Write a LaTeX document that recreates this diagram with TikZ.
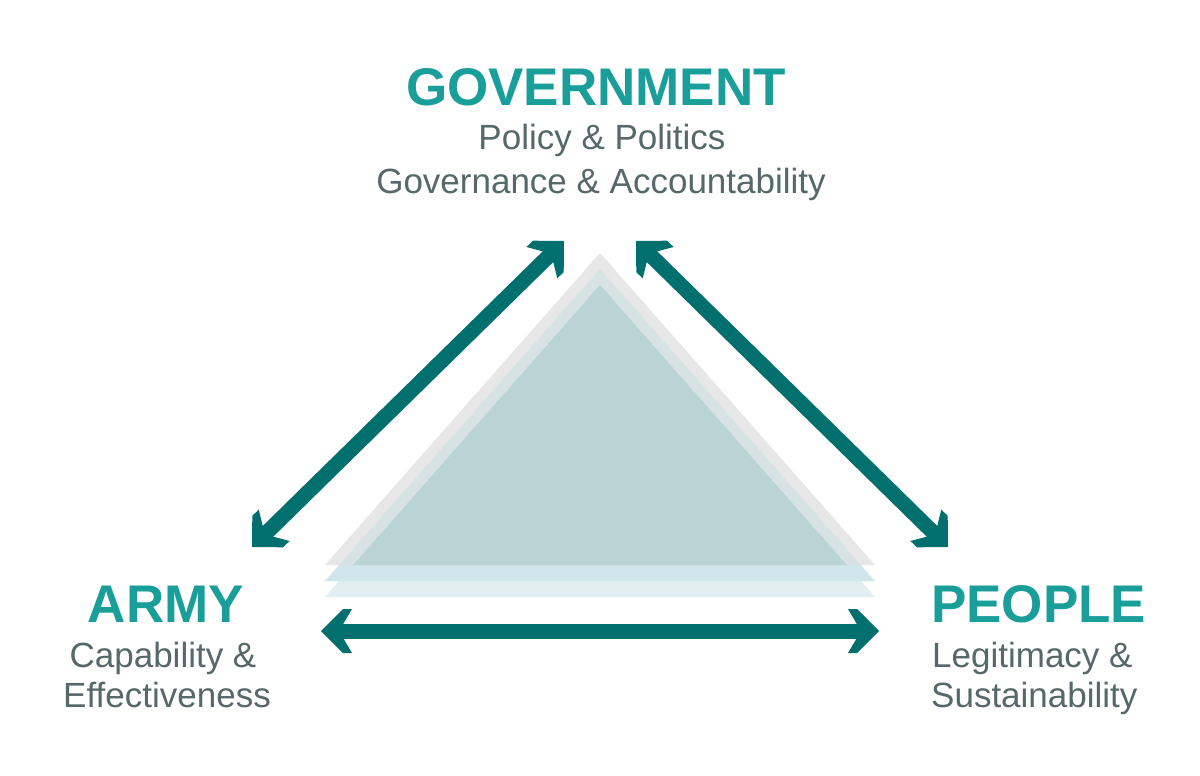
\documentclass[tikz,border=0pt]{standalone}
\usepackage{fontspec}
\setmainfont{Liberation Sans}
\usetikzlibrary{arrows.meta}
\definecolor{teal1}{HTML}{1A9E9A}
\definecolor{gray1}{HTML}{56686A}
\definecolor{arrowc}{HTML}{016F6E}
\definecolor{conly}{HTML}{E7E7E7}
\definecolor{ctwelve}{HTML}{D6E2E3}
\definecolor{cmain}{HTML}{BAD4D6}
\definecolor{ctwothree}{HTML}{CFE6EA}
\definecolor{cthree}{HTML}{E2EFF2}
\pgfdeclarearrow{
  name = Chev,
  setup code = {
    \pgfarrowssettipend{0pt}
    \pgfarrowssetlineend{-17pt}
    \pgfarrowssetbackend{-31pt}
    \pgfarrowssetvisualbackend{-31pt}
    \pgfarrowshullpoint{0pt}{0pt}
    \pgfarrowsupperhullpoint{-31pt}{22pt}
  },
  drawing code = {
    \pgfpathmoveto{\pgfqpoint{0pt}{0pt}}
    \pgfpathlineto{\pgfqpoint{-22pt}{22pt}}
    \pgfpathlineto{\pgfqpoint{-31pt}{22pt}}
    \pgfpathlineto{\pgfqpoint{-18pt}{0pt}}
    \pgfpathlineto{\pgfqpoint{-31pt}{-22pt}}
    \pgfpathlineto{\pgfqpoint{-22pt}{-22pt}}
    \pgfpathclose
    \pgfusepathqfill
  }
}
\begin{document}
\begin{tikzpicture}[x=1pt,y=-1pt,
  title/.style={font=\fontsize{53}{60}\selectfont\bfseries, text=teal1, inner sep=0pt, anchor=base},
  sub/.style={font=\fontsize{35}{42}\selectfont, text=gray1, inner sep=0pt, anchor=base},
  link/.style={draw=arrowc, line width=15pt, {Chev}-{Chev}},
]
\useasboundingbox (0,0) rectangle (1200,776);
\fill[white] (0,0) rectangle (1200,776);
% layered triangles
\fill[cthree] (600,285) -- (875,597) -- (325,597) -- cycle;
\fill[ctwothree] (600,269) -- (875,581) -- (325,581) -- cycle;
\fill[conly] (600,253) -- (875,565) -- (325,565) -- cycle;
\begin{scope}
  \clip (600,253) -- (875,565) -- (325,565) -- cycle;
  \fill[ctwelve] (600,269) -- (875,581) -- (325,581) -- cycle;
  \clip (600,269) -- (875,581) -- (325,581) -- cycle;
  \fill[cmain] (600,285) -- (875,597) -- (325,597) -- cycle;
\end{scope}
% texts
\node[title] (gov) at (596,105) {GOVERNMENT};
\node[sub] (gov1) at (602,149) {Policy \& Politics};
\node[sub] (gov2) at (601,193) {Governance \& Accountability};
\node[title] (army) at (166,622) {ARMY};
\node[sub] (army1) at (163,667) {Capability \&};
\node[sub] (army2) at (167,707) {Effectiveness};
\node[title, anchor=base west] (people) at (931,622) {PEOPLE};
\node[sub, anchor=base west] (people1) at (932,667) {Legitimacy \&};
\node[sub, anchor=base west] (people2) at (931,707) {Sustainability};
% arrow ends
\coordinate (aL) at (252,547);
\coordinate (gL) at (564,241);
\coordinate (gR) at (636,241);
\coordinate (pR) at (948,547);
\coordinate (aB) at (321,631);
\coordinate (pB) at (879,631);
\draw[link] (aL) -- (gL);
\draw[link] (gR) -- (pR);
\draw[link] (aB) -- (pB);
\end{tikzpicture}
\end{document}
